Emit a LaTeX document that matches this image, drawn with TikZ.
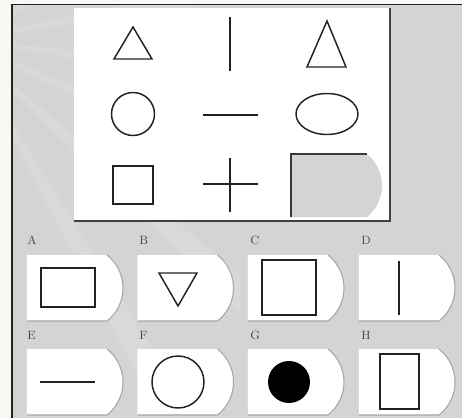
\documentclass[tikz,border=0pt]{standalone}
\definecolor{bg}{HTML}{D4D4D4}
\definecolor{paper}{HTML}{FAF8F2}
\definecolor{ink}{HTML}{222222}
\definecolor{ray}{HTML}{FFFDF2}
\begin{document}
\begin{tikzpicture}[x=0.75pt,y=-0.75pt,
  fig/.style={draw=ink, line width=1.1pt},
  lab/.style={font=\small, text=gray!55!black, inner sep=0pt, anchor=west},
  cardedge/.style={draw=gray!70, line width=0.8pt}]
\useasboundingbox (0,0) rectangle (462,418);
\fill[paper] (0,0) rectangle (462,418);
\fill[bg] (12,4.5) rectangle (462,418);
% faint light rays
\begin{scope}
  \clip (12,4.5) rectangle (240,418);
  \foreach \a in {-30,-12,5,22,40,58}
    \fill[ray, opacity=0.14] (-40,40) -- ++(\a:420) -- ++(\a+90:30) -- cycle;
\end{scope}
\draw[ink, line width=1.4pt] (12,418) -- (12,4.5) -- (462,4.5);
% top panel
\fill[white] (74,8) rectangle (390,221);
\draw[gray!50!black, line width=1pt] (74,221) -- (390,221) -- (390,8);
% matrix figures
\draw[fig] (114,59) -- (133,27) -- (152,59) -- cycle;
\draw[fig] (230,17) -- (230,71);
\draw[fig] (307,67) -- (327,21) -- (346,67) -- cycle;
\draw[fig] (133,114) circle[radius=21.5];
\draw[fig] (203,115) -- (258,115);
\draw[fig] (327,114) ellipse[x radius=31, y radius=20.5];
\draw[fig] (113,166) rectangle (153,204);
\draw[fig] (203,184) -- (258,184);
\draw[fig] (230,158) -- (230,212);
\fill[bg] (291,217) -- (291,154) -- (367,154) arc[start angle=-50.9, end angle=50.9, radius=40.6] -- cycle;
\draw[gray!45!black, line width=1pt] (291,217) -- (291,154) -- (367,154);
% option cards
\foreach \x/\y in {27/255,137.5/255,248/255,359/255,27/349,137.5/349,248/349,359/349}{
  \fill[white] (\x,\y) -- (\x+80,\y) arc[start angle=-51.8, end angle=51.8, radius=42] -- (\x,\y+66) -- cycle;
  \draw[cardedge] (\x+80,\y) arc[start angle=-51.8, end angle=51.8, radius=42] -- (\x,\y+66);
}
% labels
\node[lab] (la) at (27,240) {A};
\node[lab] (lb) at (139,240) {B};
\node[lab] (lc) at (250,240) {C};
\node[lab] (ld) at (361,240) {D};
\node[lab] (le) at (27,335) {E};
\node[lab] (lf) at (139,335) {F};
\node[lab] (lg) at (250,335) {G};
\node[lab] (lh) at (361,335) {H};
% option figures
\draw[fig] (41,268) rectangle (95,307);
\draw[fig] (159,273) -- (197,273) -- (178,306) -- cycle;
\draw[fig] (262,260) rectangle (316,315);
\draw[fig] (399,261) -- (399,315);
\draw[fig] (40,382) -- (95,382);
\draw[fig] (178,382) circle[radius=26];
\fill[black] (289,382) circle[radius=21];
\draw[fig] (380,354) rectangle (419,409);
\end{tikzpicture}
\end{document}
